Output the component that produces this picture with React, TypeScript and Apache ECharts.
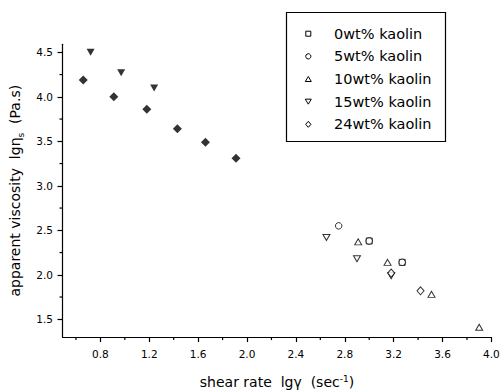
import React, { useEffect, useRef } from "react";
import * as echarts from "echarts";

const FONT = "DejaVu Sans";

const xMajorTicks = [0.8, 1.2, 1.6, 2.0, 2.4, 2.8, 3.2, 3.6, 4.0];
const xMinorTicks = [0.6, 1.0, 1.4, 1.8, 2.2, 2.6, 3.0, 3.4, 3.8];
const yMajorTicks = [1.5, 2.0, 2.5, 3.0, 3.5, 4.0, 4.5];
const yMinorTicks = [1.75, 2.25, 2.75, 3.25, 3.75, 4.25];

const legendNames = ["0wt% kaolin", "5wt% kaolin", "10wt% kaolin", "15wt% kaolin", "24wt% kaolin"];
const legendIcons = ["square", "circle", "up", "down", "diamond"];

const kaolin0 = [[3.0, 2.38], [3.27, 2.14]];
const kaolin5 = [[2.75, 2.55], [3.0, 2.38], [3.27, 2.14]];
const kaolin10 = [[2.91, 2.37], [3.15, 2.14], [3.51, 1.78], [3.9, 1.41]];
const kaolin15 = [[2.65, 2.42], [2.9, 2.18], [3.18, 1.99]];
const kaolin24 = [[3.18, 2.02], [3.42, 1.82]];
const kaolin15Filled = [[0.72, 4.5], [0.97, 4.27], [1.24, 4.1]];
const kaolin24Filled = [[0.66, 4.19], [0.91, 4.0], [1.18, 3.86], [1.43, 3.64], [1.66, 3.49], [1.91, 3.31]];

const xMin = 0.49;
const xMax = 4.0;
const yMin = 1.3;
const yMax = 4.59;

const openStyle = { color: "#ffffff", borderColor: "#000000", borderWidth: 1 };
const filledStyle = { color: "#000000", borderColor: "#000000", borderWidth: 0 };

function legendIcon(kind: string, cx: number, cy: number) {
  const style = { fill: "#fff", stroke: "#000", lineWidth: 1 };
  if (kind === "square") return { type: "rect", shape: { x: cx - 2.5, y: cy - 2.5, width: 5, height: 5 }, style };
  if (kind === "circle") return { type: "circle", shape: { cx, cy, r: 2.6 }, style };
  if (kind === "up")
    return { type: "polygon", shape: { points: [[cx - 3, cy + 2.5], [cx + 3, cy + 2.5], [cx, cy - 2.5]] }, style };
  if (kind === "down")
    return { type: "polygon", shape: { points: [[cx - 3, cy - 2.5], [cx + 3, cy - 2.5], [cx, cy + 2.5]] }, style };
  return { type: "polygon", shape: { points: [[cx, cy - 3], [cx + 2.6, cy], [cx, cy + 3], [cx - 2.6, cy]] }, style };
}

export default function App() {
  const ref = useRef<HTMLDivElement>(null);
  useEffect(() => {
    if (!ref.current) return;
    const chart = echarts.init(ref.current, undefined, { renderer: "svg" });
    const labelStyle = { fontFamily: FONT, fontSize: 10.5, color: "#000" };
    const yNameRich = {
      t: { fontFamily: FONT, fontSize: 14, color: "#000", lineHeight: 20 },
      sub: { fontFamily: FONT, fontSize: 9, color: "#000", lineHeight: 10, verticalAlign: "bottom" },
    };
    const xNameRich = {
      t: { fontFamily: FONT, fontSize: 14, color: "#000", lineHeight: 16 },
      sup: { fontFamily: FONT, fontSize: 9, color: "#000", lineHeight: 8, verticalAlign: "top" },
    };
    chart.setOption({
      animation: false,
      backgroundColor: "#ffffff",
      grid: { left: 62.5, right: 8.6, top: 44.3, bottom: 54.9, containLabel: false, outerBoundsMode: "none" },
      xAxis: {
        type: "value",
        min: xMin,
        max: xMax,
        position: "bottom",
        axisLine: { show: true, onZero: false, lineStyle: { color: "#000", width: 1.2 } },
        axisTick: { show: true, inside: false, length: 5, customValues: xMajorTicks, lineStyle: { color: "#000", width: 1.2 } },
        axisLabel: {
          show: true,
          margin: 11,
          customValues: xMajorTicks,
          hideOverlap: false,
          formatter: (v: number) => v.toFixed(1),
          ...labelStyle,
        },
        splitLine: { show: false },
        name: "{t|shear rate  lgγ  (sec}{sup|-1}{t|)}",
        nameLocation: "middle",
        nameGap: 37,
        nameTextStyle: { rich: xNameRich },
      },
      yAxis: {
        type: "value",
        min: yMin,
        max: yMax,
        position: "left",
        axisLine: { show: true, onZero: false, lineStyle: { color: "#000", width: 1.2 } },
        axisTick: { show: true, inside: false, length: 5, customValues: yMajorTicks, lineStyle: { color: "#000", width: 1.2 } },
        axisLabel: {
          show: true,
          margin: 9.5,
          customValues: yMajorTicks,
          hideOverlap: false,
          formatter: (v: number) => v.toFixed(1),
          ...labelStyle,
        },
        splitLine: { show: false },
        name: "{t|apparent viscosity  lgη}{sub|s}{t|  (Pa.s)}",
        nameLocation: "middle",
        nameRotate: 90,
        nameGap: 36,
        nameTextStyle: { rich: yNameRich },
      },
      series: [
        { name: "0wt% kaolin", type: "scatter", data: kaolin0, symbol: "rect", symbolSize: 6, itemStyle: openStyle },
        { name: "5wt% kaolin", type: "scatter", data: kaolin5, symbol: "circle", symbolSize: 6.5, itemStyle: openStyle },
        { name: "10wt% kaolin", type: "scatter", data: kaolin10, symbol: "triangle", symbolSize: [7, 6], itemStyle: openStyle },
        { name: "15wt% kaolin", type: "scatter", data: kaolin15, symbol: "triangle", symbolRotate: 180, symbolSize: [7, 6], itemStyle: openStyle },
        { name: "24wt% kaolin", type: "scatter", data: kaolin24, symbol: "diamond", symbolSize: [7, 8], itemStyle: openStyle },
        { name: "15wt% kaolin (filled)", type: "scatter", data: kaolin15Filled, symbol: "triangle", symbolRotate: 180, symbolSize: [8, 7], itemStyle: filledStyle },
        { name: "24wt% kaolin (filled)", type: "scatter", data: kaolin24Filled, symbol: "diamond", symbolSize: [9, 9], itemStyle: filledStyle },
      ],
    });

    const graphics: any[] = [];
    const tickStyle = { stroke: "#000000", lineWidth: 1.2 };
    const xBase = chart.convertToPixel({ xAxisIndex: 0 }, xMin) as number;
    const yBase = chart.convertToPixel({ yAxisIndex: 0 }, yMin) as number;
    xMinorTicks.forEach((v) => {
      const p = chart.convertToPixel({ xAxisIndex: 0 }, v) as number;
      graphics.push({ type: "line", silent: true, z: 100, shape: { x1: p, y1: yBase, x2: p, y2: yBase + 3 }, style: tickStyle });
    });
    yMinorTicks.forEach((v) => {
      const p = chart.convertToPixel({ yAxisIndex: 0 }, v) as number;
      graphics.push({ type: "line", silent: true, z: 100, shape: { x1: xBase, y1: p, x2: xBase - 3, y2: p }, style: tickStyle });
    });

    graphics.push({
      type: "rect",
      silent: true,
      shape: { x: 286.5, y: 12.5, width: 159, height: 129 },
      style: { fill: "none", stroke: "#000", lineWidth: 1.2 },
    });
    legendNames.forEach((name, i) => {
      const cy = 33.7 + i * 22.65;
      graphics.push(legendIcon(legendIcons[i], 308.3, cy));
      graphics.push({
        type: "text",
        silent: true,
        x: 334,
        y: cy,
        style: { text: name, fontFamily: FONT, fontSize: 14.5, fill: "#000", align: "left", verticalAlign: "middle" },
      });
    });
    chart.setOption({ graphic: graphics });

    return () => chart.dispose();
  }, []);
  return <div ref={ref} style={{ width: 500, height: 392, position: "absolute", left: 0, top: 0 }} />;
}
